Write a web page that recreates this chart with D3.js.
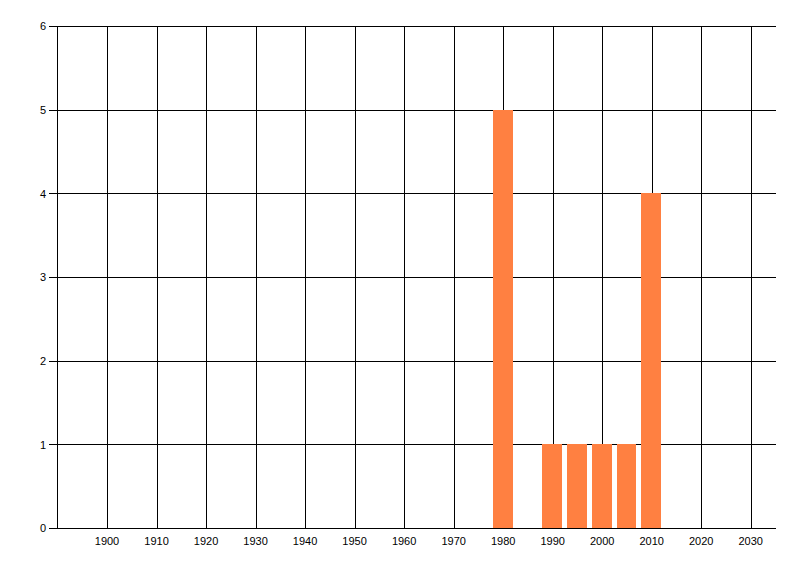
<!DOCTYPE html>
<html><head><meta charset="utf-8">
<script src="https://cdn.jsdelivr.net/npm/d3@7"></script>
<style>html,body{margin:0;padding:0;background:#fff;}svg{display:block;}</style>
</head><body>
<script>
const years = [1980, 1990, 1995, 2000, 2005, 2010];
const counts = [5, 1, 1, 1, 1, 4];
const xTicks = [1900, 1910, 1920, 1930, 1940, 1950, 1960, 1970, 1980, 1990, 2000, 2010, 2020, 2030];
const yTicks = [0, 1, 2, 3, 4, 5, 6];
const xDomain = [1890, 2035];
const yDomain = [0, 6];
const barYears = 4;

const W = 800, H = 576;
const svg = d3.select("body").append("svg").attr("width", W).attr("height", H);
const x = d3.scaleLinear().domain(xDomain).range([57.5, 775.5]);
const y = d3.scaleLinear().domain(yDomain).range([528.5, 26.5]);
const font = "'Liberation Sans', Arial, sans-serif";

// vertical gridlines
svg.append("g").selectAll("line").data(xTicks).join("line")
  .attr("x1", d => Math.round(x(d)) + 0.5).attr("x2", d => Math.round(x(d)) + 0.5)
  .attr("y1", y(6)).attr("y2", y(0))
  .attr("stroke", "#000").attr("stroke-width", 1).attr("shape-rendering", "crispEdges");
// horizontal gridlines with ticks
svg.append("g").selectAll("line").data(yTicks).join("line")
  .attr("x1", 49).attr("x2", x(2035))
  .attr("y1", d => y(d)).attr("y2", d => y(d))
  .attr("stroke", "#000").attr("stroke-width", 1).attr("shape-rendering", "crispEdges");
// left axis line
svg.append("line").attr("x1", x(1890)).attr("x2", x(1890)).attr("y1", y(6)).attr("y2", y(0))
  .attr("stroke", "#000").attr("shape-rendering", "crispEdges");

// bars
svg.append("g").selectAll("rect").data(years.map((d, i) => ({yr: d, v: counts[i]}))).join("rect")
  .attr("x", d => x(d.yr - barYears / 2) - 0.5)
  .attr("width", d => x(d.yr + barYears / 2) - x(d.yr - barYears / 2))
  .attr("y", d => y(d.v) - 0.5)
  .attr("height", d => y(0) - y(d.v))
  .attr("fill", "#ff8041").attr("shape-rendering", "crispEdges");

// y labels
svg.append("g").selectAll("text").data(yTicks).join("text")
  .attr("x", 46).attr("y", d => y(d)).attr("dy", "0.35em")
  .attr("text-anchor", "end").attr("font-family", font).attr("font-size", 11)
  .attr("fill", "#000").text(d => d);
// x labels
svg.append("g").selectAll("text").data(xTicks).join("text")
  .attr("x", d => x(d)).attr("y", 545)
  .attr("text-anchor", "middle").attr("font-family", font).attr("font-size", 11)
  .attr("fill", "#000").text(d => d);
</script>
</body></html>
